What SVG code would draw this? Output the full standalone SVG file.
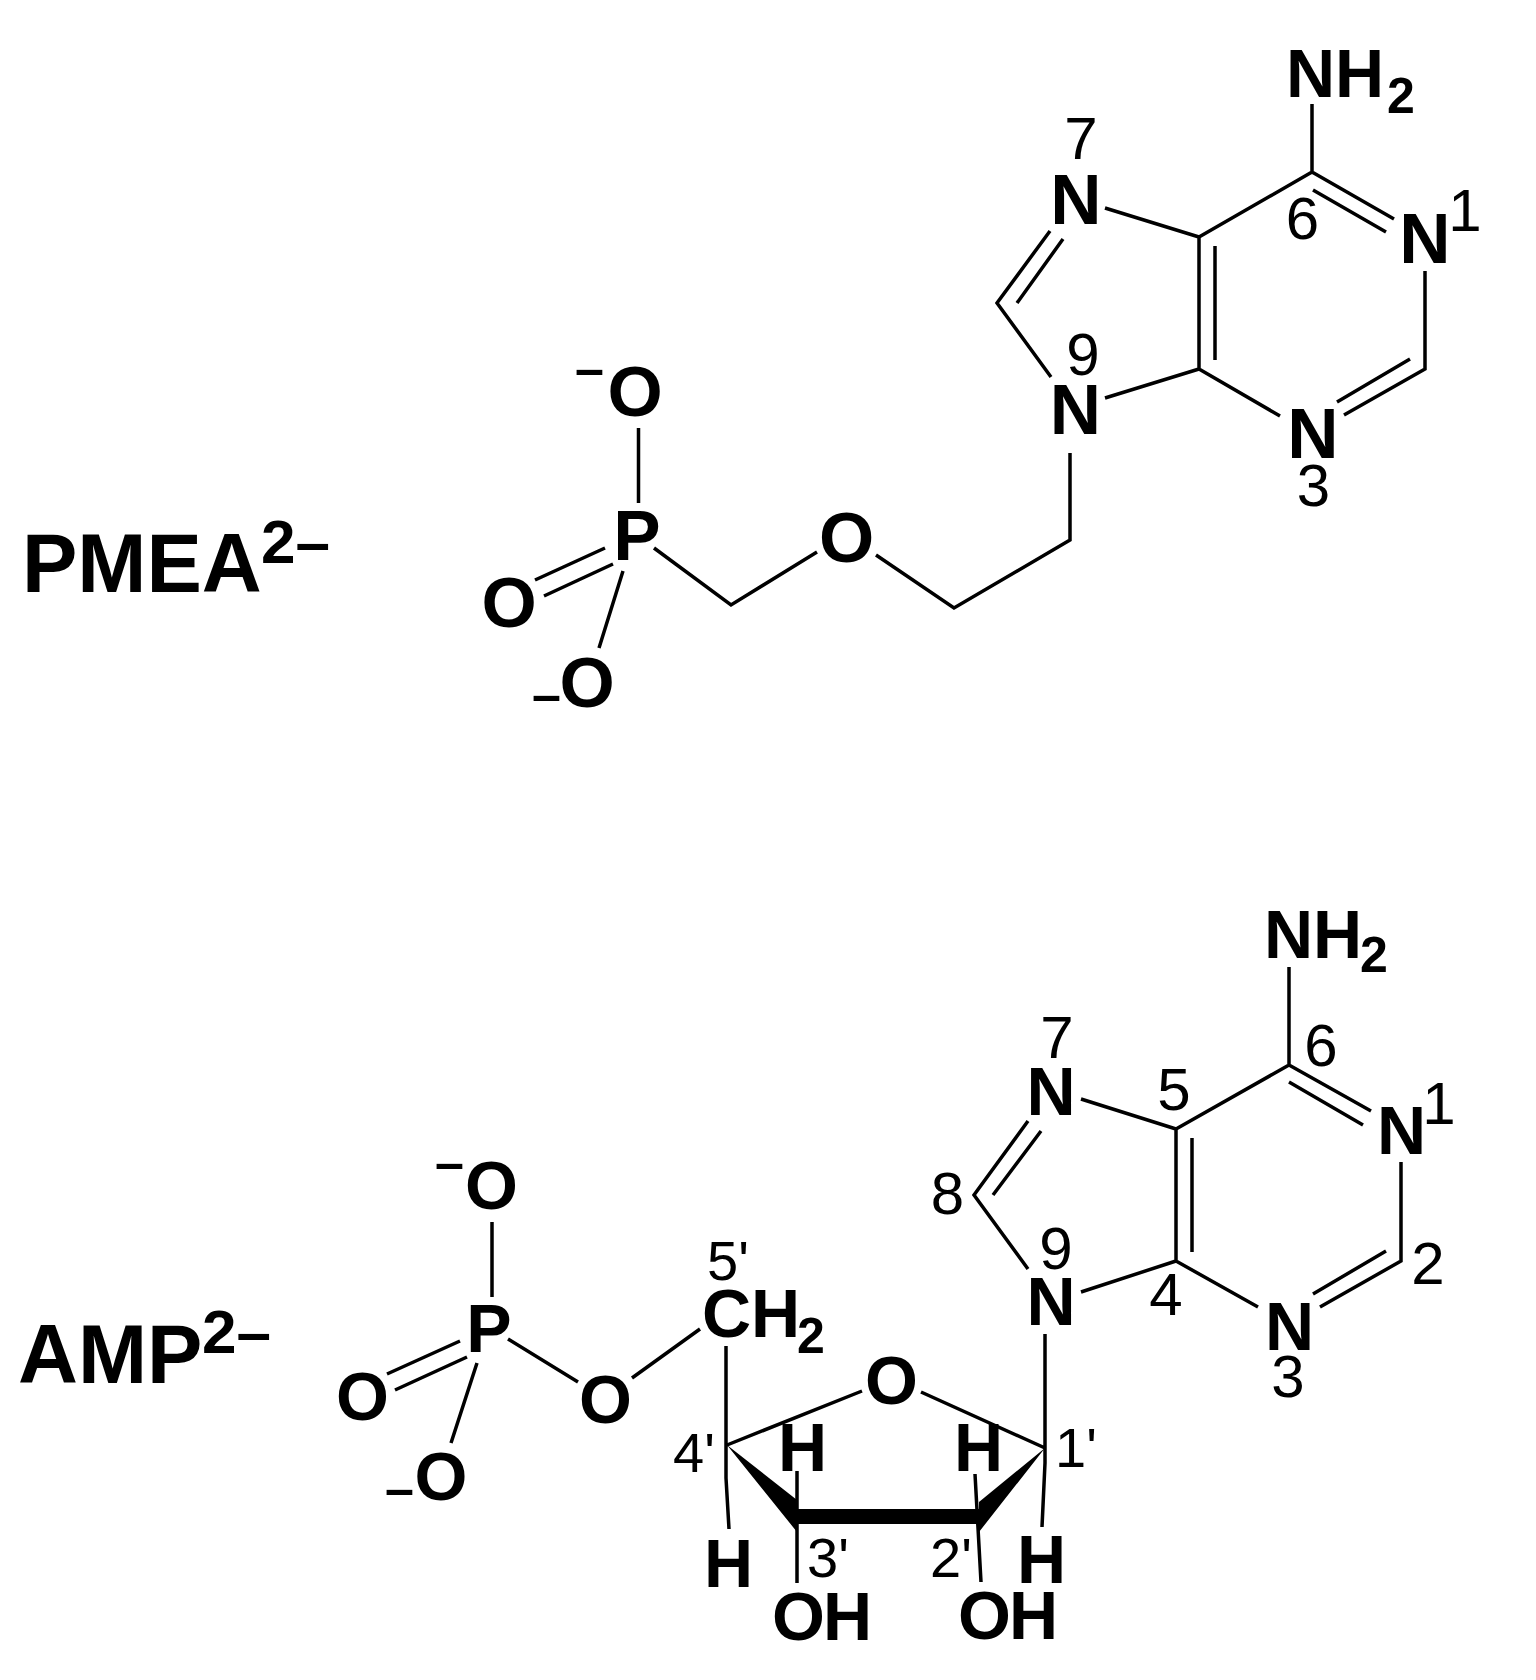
<svg xmlns="http://www.w3.org/2000/svg" width="1536" height="1680" viewBox="0 0 1536 1680">
<style>
text{font-family:"Liberation Sans",Arial,sans-serif;fill:#000}
.b{font-weight:700;font-size:71px;text-anchor:middle}
.a{font-weight:700;font-size:68px;text-anchor:middle}
.s{font-weight:700;font-size:68px}
.sub{font-weight:700;font-size:50px}
.d{font-size:60px;text-anchor:middle}
.p{font-size:56px}
.t{font-weight:700;font-size:83px}
.ts{font-weight:700;font-size:62px}
.c{font-weight:700;font-size:52px}
.l{fill:none;stroke:#000;stroke-width:3.5;stroke-linejoin:miter}
</style>
<rect width="1536" height="1680" fill="#fff"/>
<g id="connectors" class="l">
<path d="M1312 104V172L1199 237V369L1280 416M1199 237L1105 208M1199 369L1105 398M1312 172L1394 219M1313 190L1386 232M1215 246V360M1425 271V369L1344 415M1410 359L1337 402M1050 231L997 303L1051 377M1063 239L1017 303"/>
<path d="M638.5 428V503M605 548L535 580M613 564L544 596M623 571L599 648M654 548L731 605L817 552M876 555L954 608L1070 540V453"/>
<path d="M1289 967V1065L1176 1129V1261L1258 1307M1176 1129L1081 1099M1176 1261L1081 1292M1289 1065L1371 1111M1289 1082L1363 1125M1192 1138V1252M1401 1162V1261L1320 1307M1386 1251L1313 1294M1028 1121L974 1195L1028 1269M1041 1131L993 1195"/>
<path d="M492 1222V1297M460 1341L387 1374M467 1357L395 1390M477 1363L451 1443M508 1339L578 1382M632 1378L700 1329M726 1346V1478L729 1529M727 1445L862 1391M921 1392L1045 1448M1045 1334V1463L1042 1527M797 1471V1583M975 1474L981 1582"/>
<polygon fill="#000" stroke="none" points="727,1445 797,1500 797,1509 979,1509 979,1502 1045,1448 979,1532 979,1524 797,1524 797,1532"/>
</g>
<g id="pmea-label"><text class="t" x="22" y="591.5">PMEA</text><text class="ts" x="261" y="562.5">2–</text></g>
<g id="pmea-nh2"><text class="s" x="1286" y="97" font-size="71">NH</text><text class="sub" x="1387" y="112.5">2</text></g>
<g id="pmea-n7"><text class="b" x="1076" y="224">N</text><text class="d" x="1081" y="159">7</text></g>
<g id="pmea-c6"><text class="d" x="1302.5" y="239">6</text></g>
<g id="pmea-n1"><text class="b" x="1425" y="262.5">N</text><text class="d" x="1465" y="231">1</text></g>
<g id="pmea-n9"><text class="b" x="1075.5" y="433.5">N</text><text class="d" x="1083" y="375">9</text></g>
<g id="pmea-n3"><text class="b" x="1313" y="458">N</text><text class="d" x="1313.5" y="506">3</text></g>
<g id="pmea-o1"><text class="b" x="635" y="416">O</text><text class="c" x="575" y="386">–</text></g>
<g id="pmea-p"><text class="b" x="637" y="560">P</text></g>
<g id="pmea-o2"><text class="b" x="509" y="627">O</text></g>
<g id="pmea-o3"><text class="b" x="587" y="707">O</text><text class="c" x="532" y="712">–</text></g>
<g id="pmea-o4"><text class="b" x="846.5" y="562">O</text></g>
<g id="amp-label"><text class="t" x="18" y="1382.5">AMP</text><text class="ts" x="202" y="1352.5">2–</text></g>
<g id="amp-nh2"><text class="s" x="1264" y="958">NH</text><text class="sub" x="1360" y="972" font-size="49">2</text></g>
<g id="amp-n7"><text class="a" x="1051" y="1115">N</text><text class="d" x="1057" y="1058">7</text></g>
<g id="amp-c6"><text class="d" x="1321" y="1066">6</text></g>
<g id="amp-c5"><text class="d" x="1174" y="1110">5</text></g>
<g id="amp-n1"><text class="a" x="1401.5" y="1154">N</text><text class="d" x="1439" y="1124">1</text></g>
<g id="amp-c8"><text class="d" x="947.5" y="1214">8</text></g>
<g id="amp-n9"><text class="a" x="1051" y="1325">N</text><text class="d" x="1056" y="1269">9</text></g>
<g id="amp-c4"><text class="d" x="1166" y="1315">4</text></g>
<g id="amp-c2"><text class="d" x="1428" y="1284">2</text></g>
<g id="amp-n3"><text class="a" x="1289.5" y="1350">N</text><text class="d" x="1288" y="1397">3</text></g>
<g id="amp-o1"><text class="a" x="491.5" y="1209">O</text><text class="c" x="435" y="1180">–</text></g>
<g id="amp-p"><text class="a" x="489" y="1352">P</text></g>
<g id="amp-o2"><text class="a" x="362.5" y="1420">O</text></g>
<g id="amp-o3"><text class="a" x="441" y="1500">O</text><text class="c" x="385" y="1506">–</text></g>
<g id="amp-o4"><text class="a" x="605.5" y="1423">O</text></g>
<g id="amp-ch2"><text class="s" x="702" y="1337">CH</text><text class="sub" x="797" y="1352.5" font-size="49">2</text><text class="p" x="707" y="1280">5'</text></g>
<g id="amp-o5"><text class="a" x="891.5" y="1404">O</text></g>
<g id="amp-c4p"><text class="p" x="673" y="1472">4'</text></g>
<g id="amp-c1p"><text class="p" x="1055" y="1467">1'</text></g>
<g id="amp-c3p"><text class="p" x="807" y="1577">3'</text></g>
<g id="amp-c2p"><text class="p" x="930" y="1577">2'</text></g>
<g id="amp-h1"><text class="a" x="802.5" y="1471">H</text></g>
<g id="amp-h2"><text class="a" x="978.5" y="1471">H</text></g>
<g id="amp-h3"><text class="a" x="728.5" y="1587">H</text></g>
<g id="amp-h4"><text class="a" x="1041.5" y="1583">H</text></g>
<g id="amp-oh3"><text class="s" x="772" y="1640" letter-spacing="-2">OH</text></g>
<g id="amp-oh2"><text class="s" x="958" y="1639" letter-spacing="-2">OH</text></g>
</svg>
